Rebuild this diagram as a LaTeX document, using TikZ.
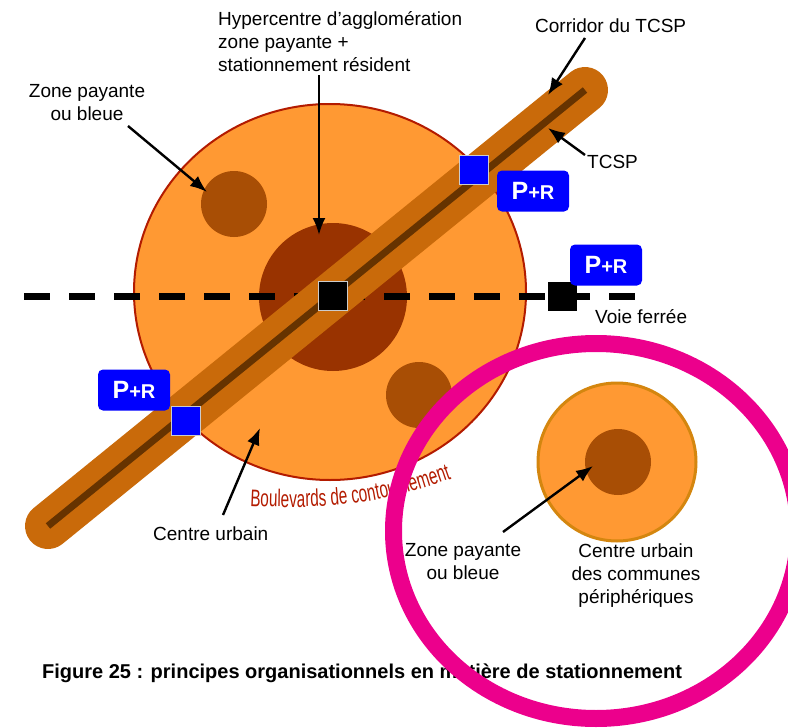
\documentclass[tikz,border=0pt]{standalone}
\usepackage{fontspec}
\setmainfont{Liberation Sans}
\newfontfamily\boulfont[FakeStretch=0.64]{Liberation Sans}
\usepackage{xcolor}
\usetikzlibrary{positioning, arrows.meta, shapes.geometric, decorations.text}

\definecolor{urbanorange}{HTML}{FF9933}
\definecolor{bvred}{HTML}{B31B00}
\definecolor{hyperbrown}{HTML}{993300}
\definecolor{zonebrown}{HTML}{A84E05}
\definecolor{corridorbrown}{HTML}{C96A0A}
\definecolor{tcspbrown}{HTML}{663300}
\definecolor{prblue}{HTML}{0000FF}
\definecolor{ringpink}{HTML}{EC008C}
\definecolor{satborder}{HTML}{D4860F}

\begin{document}
\begin{tikzpicture}[
x=1pt, y=-1pt,
label/.style={font=\fontsize{19}{23}\selectfont, inner sep=0pt, align=center},
arrow/.style={-{Latex[length=17pt, width=13pt]}, line width=2.4pt},
pr/.style={rectangle, rounded corners=5pt, fill=prblue, text=white, font=\bfseries, minimum width=72pt, minimum height=41pt, inner sep=0pt},
stopbox/.style={rectangle, minimum size=29pt, inner sep=0pt, draw=gray!40, line width=1pt},
zone/.style={circle, fill=zonebrown, minimum size=66pt, inner sep=0pt},
rail/.style={line width=7pt, dash pattern=on 26pt off 19pt}
]
\useasboundingbox (0,0) rectangle (788,728);

% centre urbain et zones
\node[ellipse, fill=urbanorange, draw=bvred, line width=2pt, minimum width=392pt, minimum height=376pt] (fig_centre) at (330,292) {};
\node[zone] (fig_zone_nw) at (234,204) {};
\node[zone] (fig_zone_se) at (419,395) {};
\node[circle, fill=hyperbrown, minimum size=148pt, inner sep=0pt] (fig_hyper) at (333,297) {};

% voie ferree
\coordinate (rail_a) at (24,296);
\coordinate (rail_b) at (637,296);
\draw[rail] (rail_a) -- (rail_b);

% corridor et TCSP
\coordinate (cor_a) at (48,526);
\coordinate (cor_b) at (585,90);
\draw[corridorbrown, line width=46pt, line cap=round] (cor_a) -- (cor_b);
\draw[tcspbrown, line width=7pt] (cor_a) -- (cor_b);

% arrets et P+R
\node[stopbox, fill=black] (fig_gare_c) at (333,296) {};
\node[rectangle, minimum size=29pt, inner sep=0pt, fill=black] (fig_gare_e) at (562,296) {};
\node[stopbox, fill=prblue] (fig_arret_ne) at (474,170) {};
\node[stopbox, fill=prblue] (fig_arret_sw) at (186,421) {};
\node[pr] (fig_pr_ne) at (533,191) {{\fontsize{25}{25}\selectfont P}{\fontsize{20}{20}\selectfont +R}};
\node[pr] (fig_pr_e) at (606,265) {{\fontsize{25}{25}\selectfont P}{\fontsize{20}{20}\selectfont +R}};
\node[pr] (fig_pr_sw) at (134,390) {{\fontsize{25}{25}\selectfont P}{\fontsize{20}{20}\selectfont +R}};

% boulevards
\coordinate (bv_a) at (250,506);
\coordinate (bv_b) at (475,470);
\path[decorate, decoration={text along path, text color=bvred, text align=left,
  text={|\boulfont\fontsize{24}{24}\selectfont|Boulevards de contournement}}]
  (bv_a) to[bend right=12] (bv_b);

% textes
\node[label, align=left, anchor=north west] (lbl_hyper) at (218,11) {Hypercentre d’agglomération\\zone payante +\\stationnement résident};
\node[label, anchor=north] (lbl_zone_nw) at (87,84) {Zone payante\\ou bleue};
\node[label, anchor=base west] (lbl_corridor) at (535,32) {Corridor du TCSP};
\node[label, anchor=base west] (lbl_tcsp) at (587,168) {TCSP};
\node[label, anchor=base west] (lbl_voie) at (595,323) {Voie ferrée};
\node[label, anchor=base west] (lbl_centre) at (153,540) {Centre urbain};

% fleches
\coordinate (tip_hyper) at (319,235);
\coordinate (tip_zone_nw) at (207,192);
\coordinate (tip_corridor) at (548,95);
\coordinate (tip_tcsp) at (548,128);
\coordinate (tip_centre) at (260,428);
\coordinate (from_hyper) at (319,75);
\coordinate (from_zone_nw) at (128,126);
\coordinate (from_corridor) at (585,38);
\coordinate (from_tcsp) at (585,155);
\coordinate (from_centre) at (223,515);
\draw[arrow] (from_hyper) -- (tip_hyper);
\draw[arrow] (from_zone_nw) -- (tip_zone_nw);
\draw[arrow] (from_corridor) -- (tip_corridor);
\draw[arrow] (from_tcsp) -- (tip_tcsp);
\draw[arrow] (from_centre) -- (tip_centre);

% communes peripheriques
\node[circle, fill=urbanorange, draw=satborder, line width=3pt, minimum size=158pt, inner sep=0pt] (fig_satellite) at (617,462) {};
\node[zone] (fig_zone_sat) at (618,462) {};
\node[label, anchor=north] (lbl_zone_sat) at (463,543) {Zone payante\\ou bleue};
\node[label, anchor=north] (lbl_periph) at (636,544) {Centre urbain\\des communes\\périphériques};
\coordinate (from_zone_sat) at (503,532);
\coordinate (tip_zone_sat) at (593,466);
\draw[arrow] (from_zone_sat) -- (tip_zone_sat);

% legende
\node[font=\fontsize{20}{24}\selectfont\bfseries, inner sep=0pt, anchor=base west] (fig_caption) at (42,678) {Figure 25 : principes organisationnels en matière de stationnement};

% couronne
\node[ellipse, draw=ringpink, line width=17pt, minimum width=405pt, minimum height=375pt] (fig_couronne) at (596,531) {};
\end{tikzpicture}
\end{document}
